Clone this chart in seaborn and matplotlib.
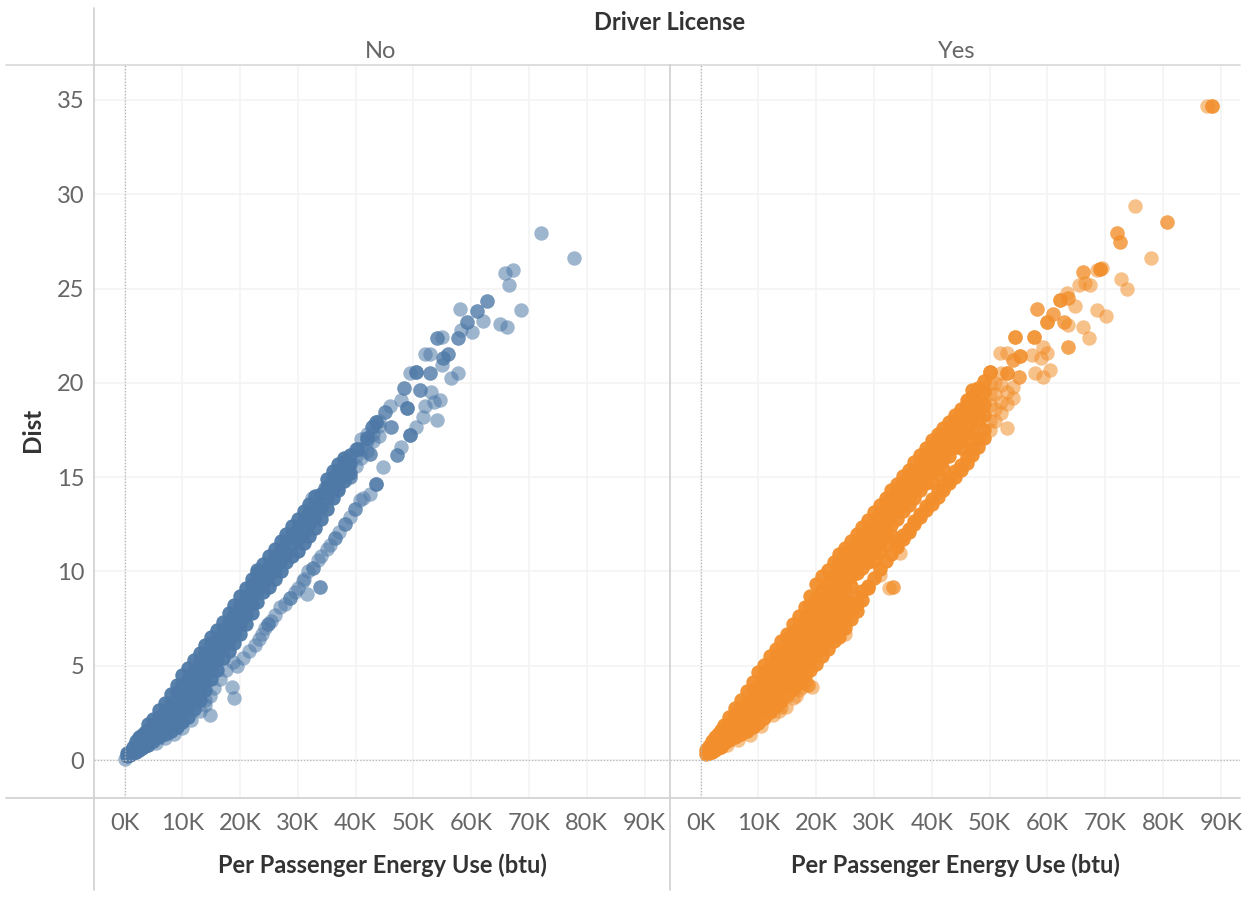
import matplotlib
matplotlib.use("Agg")
import matplotlib.pyplot as plt
import pandas as pd
import seaborn as sns
from matplotlib.lines import Line2D

# energy use in K btu -> dist values, one row per energy step
# core = the solid part of each cloud, loose = where single dots still show
no_core = {
    0.5: [0.2, 0.35], 1: [0.25, 0.45], 1.5: [0.4, 0.7], 2: [0.45, 0.75, 1.0],
    2.5: [0.55, 0.9, 1.2], 3: [0.65, 1.0, 1.35], 3.5: [0.75, 1.1, 1.5], 4: [0.8, 1.2, 1.6, 1.9],
    5: [1.0, 1.4, 1.8, 2.2], 6: [1.2, 1.6, 2.0, 2.3, 2.65], 7: [1.4, 1.8, 2.2, 2.6, 3.05],
    8: [1.55, 2.0, 2.5, 3.0, 3.5], 9: [1.75, 2.2, 2.7, 3.2, 3.6, 4.0],
    10: [2.0, 2.5, 3.0, 3.5, 4.0, 4.5], 11: [2.3, 2.8, 3.3, 3.8, 4.3, 4.9],
    12: [2.7, 3.2, 3.7, 4.2, 4.7, 5.3], 13: [3.2, 3.7, 4.2, 4.7, 5.2, 5.7],
    14: [3.7, 4.2, 4.7, 5.2, 5.7, 6.1], 15: [4.3, 4.8, 5.3, 5.8, 6.2, 6.5],
    16: [4.8, 5.3, 5.8, 6.3, 6.9], 17: [5.4, 5.9, 6.4, 6.9, 7.3], 18: [5.8, 6.3, 6.8, 7.3, 7.8],
    19: [6.2, 6.7, 7.2, 7.7, 8.2], 20: [6.7, 7.2, 7.7, 8.2, 8.7], 21: [7.2, 7.7, 8.2, 8.7, 9.1],
    22: [7.8, 8.3, 8.8, 9.3, 9.6], 23: [8.4, 8.9, 9.4, 9.9, 10.1], 24: [8.9, 9.4, 9.9, 10.4],
    25: [9.2, 9.8, 10.3, 10.8], 26: [9.6, 10.1, 10.7, 11.2], 27: [10.0, 10.6, 11.2, 11.6],
    28: [10.5, 11.0, 11.6, 12.0], 29: [10.8, 11.4, 12.0, 12.4], 30: [11.1, 11.7, 12.3, 12.8],
    31: [11.5, 12.1, 12.7, 13.2], 32: [11.9, 12.5, 13.1, 13.6], 33: [12.3, 12.9, 13.5, 14.0],
    34: [12.8, 13.4, 14.1], 35: [13.3, 13.9, 14.5, 14.9], 36: [13.9, 14.4, 14.9, 15.3],
    37: [14.3, 14.8, 15.3, 15.7], 38: [14.8, 15.3, 15.8, 16.0], 39: [15.2, 15.7, 16.2],
}
no_loose = {
    40: [15.6, 16.1, 16.5], 41: [16.0, 16.5, 17.0], 42: [16.4, 16.9, 17.3], 43: [16.9, 17.3, 17.7],
    44: [17.2, 17.7, 18.0],
}
no_tail = [
    (72.1, 27.95), (77.8, 26.6), (67.2, 26.0), (65.8, 25.8), (66.6, 25.2), (68.7, 23.85),
    (62.7, 24.35), (62.7, 24.35), (61.0, 23.8), (61.0, 23.8), (58.1, 23.9), (62.1, 23.3),
    (65.0, 23.1), (66.2, 22.95), (59.3, 23.2), (59.3, 23.2), (58.3, 22.8), (60.2, 22.7),
    (57.7, 22.4), (57.7, 22.4), (54.1, 22.4), (54.1, 22.4), (55.0, 22.45), (56.0, 21.55),
    (56.0, 21.55), (55.1, 21.3), (55.1, 21.3), (54.9, 20.95), (52.0, 21.55), (52.9, 21.55),
    (57.7, 20.5), (56.5, 20.25), (50.4, 20.6), (50.4, 20.6), (50.4, 20.6), (49.4, 20.5),
    (52.9, 20.5), (52.9, 20.5), (48.4, 19.75), (48.4, 19.75), (51.1, 19.6), (51.1, 19.6),
    (53.1, 19.5), (54.6, 19.1), (53.6, 19.0), (47.9, 19.1), (46.0, 18.75), (48.9, 18.65),
    (48.9, 18.65), (48.9, 18.65), (52.0, 18.75), (51.7, 18.2), (54.0, 18.05), (45.1, 18.45),
    (45.1, 18.45), (43.6, 17.9), (43.6, 17.9), (43.6, 17.9), (46.2, 17.65), (46.2, 17.65),
    (42.8, 17.65), (42.8, 17.65), (50.5, 17.65), (49.4, 17.25), (49.4, 17.25), (49.4, 17.25),
    (47.9, 16.6), (47.1, 16.15), (47.1, 16.15), (41.9, 17.05), (41.9, 17.05), (41.9, 17.05),
    (40.2, 16.5), (40.2, 16.5), (40.2, 16.5), (42.5, 16.25), (42.5, 16.25), (38.7, 15.7),
    (38.7, 15.7), (38.7, 15.7), (44.8, 15.55), (43.6, 14.65), (43.6, 14.65), (43.6, 14.65),
    (36.6, 15.1), (36.6, 15.1), (39.0, 15.0), (39.0, 15.0), (42.5, 14.1), (34.7, 14.4),
    (34.7, 14.4), (37.0, 14.5), (32.4, 13.9), (40.7, 13.8), (0.1, 0.05),
]
no_strand = [
    (33.8, 9.2), (33.8, 9.2), (31.6, 8.8), (28.7, 8.6), (28.7, 8.6), (32.7, 10.2), (32.7, 10.2),
    (30.9, 9.5), (30.0, 9.1), (26.9, 8.1), (27.8, 8.3), (24.8, 7.2), (24.8, 7.2), (23.8, 6.7),
    (22.6, 6.1), (19.4, 5.0), (18.6, 3.9), (18.9, 3.3), (14.8, 2.4), (14.8, 3.4), (13.9, 2.9),
    (36.4, 11.8), (36.4, 11.8), (38.1, 12.5), (38.1, 12.5), (39.9, 13.3), (39.9, 13.3),
    (35.0, 11.2), (34.0, 10.8), (33.5, 10.6), (31.8, 10.0), (31.0, 9.6), (29.5, 8.9), (26.0, 7.7),
    (25.4, 7.4), (24.3, 7.0), (23.2, 6.4), (21.5, 5.8), (20.5, 5.4), (18.8, 5.2), (17.5, 4.8),
    (16.5, 4.3), (15.5, 3.8), (14.0, 3.2), (13.0, 2.6), (11.5, 2.1), (10.0, 1.7), (8.5, 1.4),
    (7.0, 1.15), (5.5, 0.9), (35.6, 11.4), (37.2, 12.1), (39.0, 12.9), (41.2, 13.9),
]

yes_core = {
    1: [0.3, 0.55], 1.5: [0.4, 0.75], 2: [0.45, 0.75, 1.0], 2.5: [0.55, 0.9, 1.2],
    3: [0.65, 1.0, 1.4], 3.5: [0.7, 1.2, 1.6], 4: [0.9, 1.35, 1.85], 5: [1.05, 1.5, 1.9, 2.3],
    6: [1.2, 1.6, 2.0, 2.4, 2.75], 7: [1.4, 1.8, 2.2, 2.7, 3.2], 8: [1.55, 2.0, 2.5, 3.0, 3.65],
    9: [1.75, 2.2, 2.7, 3.2, 3.7, 4.15], 10: [1.95, 2.4, 2.9, 3.4, 3.95, 4.65],
    11: [2.25, 2.7, 3.2, 3.7, 4.2, 4.6, 5.05], 12: [2.55, 3.0, 3.5, 4.0, 4.5, 5.0, 5.5],
    13: [2.85, 3.4, 3.9, 4.4, 4.9, 5.4, 5.9], 14: [3.15, 3.8, 4.3, 4.8, 5.3, 5.8, 6.3],
    15: [3.45, 4.0, 4.5, 5.0, 5.5, 6.0, 6.4, 6.7], 16: [3.75, 4.3, 4.8, 5.3, 5.8, 6.3, 6.8, 7.2],
    17: [4.1, 4.6, 5.1, 5.6, 6.1, 6.6, 7.1, 7.65], 18: [4.5, 5.0, 5.5, 6.0, 6.5, 7.0, 7.5, 8.1],
    19: [4.8, 5.3, 5.8, 6.3, 6.8, 7.3, 7.8, 8.2, 8.7], 20: [5.1, 5.6, 6.1, 6.6, 7.1, 7.6, 8.1, 8.6, 9.35],
    21: [5.5, 6.0, 6.5, 7.0, 7.5, 8.0, 8.5, 9.0, 9.75], 22: [5.9, 6.4, 6.9, 7.4, 7.9, 8.4, 8.9, 9.4, 10.1],
    23: [6.3, 6.8, 7.3, 7.8, 8.3, 8.8, 9.3, 9.8, 10.5], 24: [6.5, 7.0, 7.5, 8.0, 8.5, 9.0, 9.5, 10.0, 10.5, 10.9],
    25: [7.0, 7.5, 8.0, 8.5, 9.0, 9.5, 10.0, 10.5, 11.0, 11.25], 26: [7.5, 7.9, 8.35, 9.25, 9.75, 10.25, 10.75, 11.25, 11.6],
    27: [7.9, 8.3, 8.65, 9.9, 10.3, 10.7, 11.1, 11.55, 12.0], 28: [8.5, 8.95, 10.2, 10.6, 11.0, 11.45, 11.9, 12.35],
    29: [9.1, 9.25, 10.5, 10.9, 11.3, 11.75, 12.25, 12.75], 30: [9.65, 10.55, 11.05, 11.55, 12.05, 12.55, 13.15],
    31: [10.15, 11.05, 11.55, 12.05, 12.55, 13.05, 13.5], 32: [10.55, 11.45, 11.95, 12.45, 12.95, 13.45, 13.9],
    33: [10.95, 11.95, 12.45, 12.95, 13.45, 13.95, 14.3], 34: [11.3, 11.55, 12.8, 13.2, 13.6, 14.0, 14.3, 14.65],
    35: [11.7, 11.95, 13.2, 13.6, 14.0, 14.35, 14.7, 15.05], 36: [12.1, 12.25, 13.5, 13.9, 14.3, 14.65, 15.05, 15.4],
    37: [12.5, 12.65, 13.9, 14.3, 14.7, 15.05, 15.4, 15.8], 38: [12.9, 13.05, 14.3, 14.7, 15.05, 15.45, 15.8, 16.15],
    39: [13.25, 13.45, 14.7, 15.1, 15.5, 15.85, 16.2, 16.55], 40: [13.6, 13.85, 14.75, 15.25, 15.75, 16.25, 16.6, 16.95],
    41: [13.95, 14.25, 15.15, 15.65, 16.15, 16.65, 17.0, 17.3], 42: [14.3, 14.55, 15.45, 15.95, 16.45, 16.95, 17.3, 17.6],
    43: [14.7, 14.85, 16.1, 16.5, 16.9, 17.25, 17.6, 17.95], 44: [15.0, 15.35, 16.6, 17.0, 17.4, 17.75, 18.05, 18.3],
    45: [15.4, 15.65, 16.55, 17.05, 17.55, 18.05, 18.35, 18.6], 46: [15.75, 16.05, 16.95, 17.45, 17.95, 18.45, 18.8, 19.1],
    47: [16.2, 16.5, 17.4, 17.9, 18.4, 18.9, 19.25, 19.6], 48: [16.6, 17.0, 17.9, 18.4, 19.0, 19.7],
    49: [17.05, 17.5, 18.3, 18.9, 19.5, 20.1],
}
yes_loose = {
    50: [17.5, 18.0, 18.8, 19.4, 20.0, 20.6], 51: [18.0, 18.6, 19.4, 20.0], 52: [18.4, 19.0, 19.9, 20.5],
    53: [18.9, 19.5, 17.6], 54: [19.2, 19.8],
}
yes_tail = [
    (88.4, 34.65), (88.4, 34.65), (88.4, 34.65), (87.6, 34.65), (75.2, 29.4), (80.6, 28.55),
    (80.6, 28.55), (72.0, 27.95), (72.0, 27.95), (72.6, 27.45), (72.6, 27.45), (77.9, 26.6),
    (69.1, 26.05), (69.1, 26.05), (69.1, 26.05), (69.4, 26.1), (68.5, 26.0), (66.1, 25.85),
    (66.1, 25.85), (65.4, 25.2), (67.4, 25.2), (66.5, 25.3), (72.8, 25.5), (73.7, 24.95),
    (63.4, 24.75), (62.2, 24.4), (62.2, 24.4), (62.2, 24.4), (63.6, 24.5), (63.6, 24.5),
    (64.8, 24.05), (58.2, 23.9), (58.2, 23.9), (61.0, 23.65), (61.0, 23.65), (68.6, 23.85),
    (70.1, 23.55), (59.9, 23.25), (59.9, 23.25), (59.9, 23.25), (62.8, 23.25), (62.8, 23.25),
    (63.6, 23.05), (66.2, 22.95), (67.2, 22.4), (63.6, 21.9), (63.6, 21.9), (57.6, 22.45),
    (57.6, 22.45), (57.6, 22.45), (54.4, 22.45), (54.4, 22.45), (54.4, 22.45), (59.3, 21.9),
    (51.8, 21.6), (53.0, 21.6), (55.3, 21.4), (55.3, 21.4), (55.3, 21.4), (54.1, 21.2),
    (54.1, 21.2), (57.3, 21.5), (59.9, 21.6), (58.8, 21.3), (57.9, 20.5), (60.5, 20.7),
    (59.3, 20.3), (50.1, 20.6), (50.1, 20.6), (50.1, 20.6), (53.0, 20.5), (53.0, 20.5),
    (53.0, 20.5), (55.0, 20.3), (55.0, 20.3), (33.3, 9.2), (33.3, 9.2), (32.6, 9.1),
    (18.6, 4.0), (18.6, 4.0), (19.3, 3.9), (14.8, 2.8), (13.5, 2.6), (16.5, 3.4),
    (12.5, 2.4), (14.0, 2.8), (16.0, 3.3), (17.0, 3.7), (17.6, 3.9), (18.2, 4.2), (10.5, 1.8),
    (8.5, 1.35), (6.5, 1.05), (4.5, 0.8), (25.0, 6.7), (31.0, 9.8), (34.5, 11.0),
]

x_ticks = [0, 10, 20, 30, 40, 50, 60, 70, 80, 90]
x_tick_labels = ["0K", "10K", "20K", "30K", "40K", "50K", "60K", "70K", "80K", "90K"]
y_ticks = [0, 5, 10, 15, 20, 25, 30, 35]

W, H = 1251, 899


def to_frame(band, extra=()):
    rows = [(x, y) for x, ys in band.items() for y in ys] + list(extra)
    return pd.DataFrame(rows, columns=["energy", "dist"])


def pixel_axes(fig, left, right, top, bottom):
    return fig.add_axes([left / W, 1 - bottom / H, (right - left) / W, (bottom - top) / H])


def frame_line(fig, x0, y0, x1, y1, color="#cfcfcf"):
    fig.add_artist(Line2D([x0 / W, x1 / W], [1 - y0 / H, 1 - y1 / H], color=color, lw=1.2))


sns.set_theme(style="white")
plt.rcParams["font.family"] = ["Lato", "DejaVu Sans"]

fig = plt.figure(figsize=(W / 100, H / 100), dpi=100)
ax_no = pixel_axes(fig, 94, 670, 65, 798)
ax_yes = pixel_axes(fig, 670, 1240, 65, 798)

panels = [
    (ax_no, to_frame(no_core), to_frame(no_loose, no_tail + no_strand), "#4e79a7", (-5.28, 94.4)),
    (ax_yes, to_frame(yes_core), to_frame(yes_loose, yes_tail), "#f28e2b", (-5.28, 93.3)),
]
for ax, core, loose, color, xlim in panels:
    ax.grid(True, color="#f3f3f3", lw=1.1)
    ax.set_axisbelow(True)
    sns.scatterplot(data=loose, x="energy", y="dist", color=color, s=108, alpha=0.55,
                    linewidth=0, ax=ax, legend=False)
    sns.scatterplot(data=core, x="energy", y="dist", color=color, s=108, alpha=0.95,
                    linewidth=0, ax=ax, legend=False)
    ax.axhline(0, color="#b5b5b5", lw=0.9, ls=(0, (1, 1.5)), zorder=1)
    ax.axvline(0, color="#b5b5b5", lw=0.9, ls=(0, (1, 1.5)), zorder=1)
    ax.set_xlim(*xlim)
    ax.set_ylim(-2.01, 36.85)
    ax.set_xticks(x_ticks, x_tick_labels)
    ax.set_yticks(y_ticks)
    ax.tick_params(axis="x", length=5, width=1, color="#eeeeee", labelsize=17,
                   labelcolor="#666666", pad=6)
    ax.tick_params(axis="y", length=0, labelsize=17, labelcolor="#666666", pad=7)
    ax.set_xlabel("Per Passenger Energy Use (btu)", fontsize=17, fontweight="bold",
                  color="#333333", labelpad=14)
    ax.set_ylabel("")
    sns.despine(ax=ax, left=True, bottom=True, top=True, right=True)
ax_yes.tick_params(axis="y", left=False, labelleft=False)

frame_line(fig, 6, 65, 1240, 65, "#d8d8d8")
frame_line(fig, 6, 798, 1240, 798)
frame_line(fig, 94, 8, 94, 890)
frame_line(fig, 670, 65, 670, 890)

fig.text(670 / W, 1 - 23 / H, "Driver License", ha="center", va="center", fontsize=17,
         fontweight="bold", color="#333333")
fig.text(381 / W, 1 - 51 / H, "No", ha="center", va="center", fontsize=17, color="#666666")
fig.text(957 / W, 1 - 51 / H, "Yes", ha="center", va="center", fontsize=17, color="#666666")
fig.text(33 / W, 1 - 430 / H, "Dist", ha="center", va="center", rotation=90, fontsize=17.5,
         fontweight="bold", color="#333333")

fig.savefig("out.png", dpi=100)
